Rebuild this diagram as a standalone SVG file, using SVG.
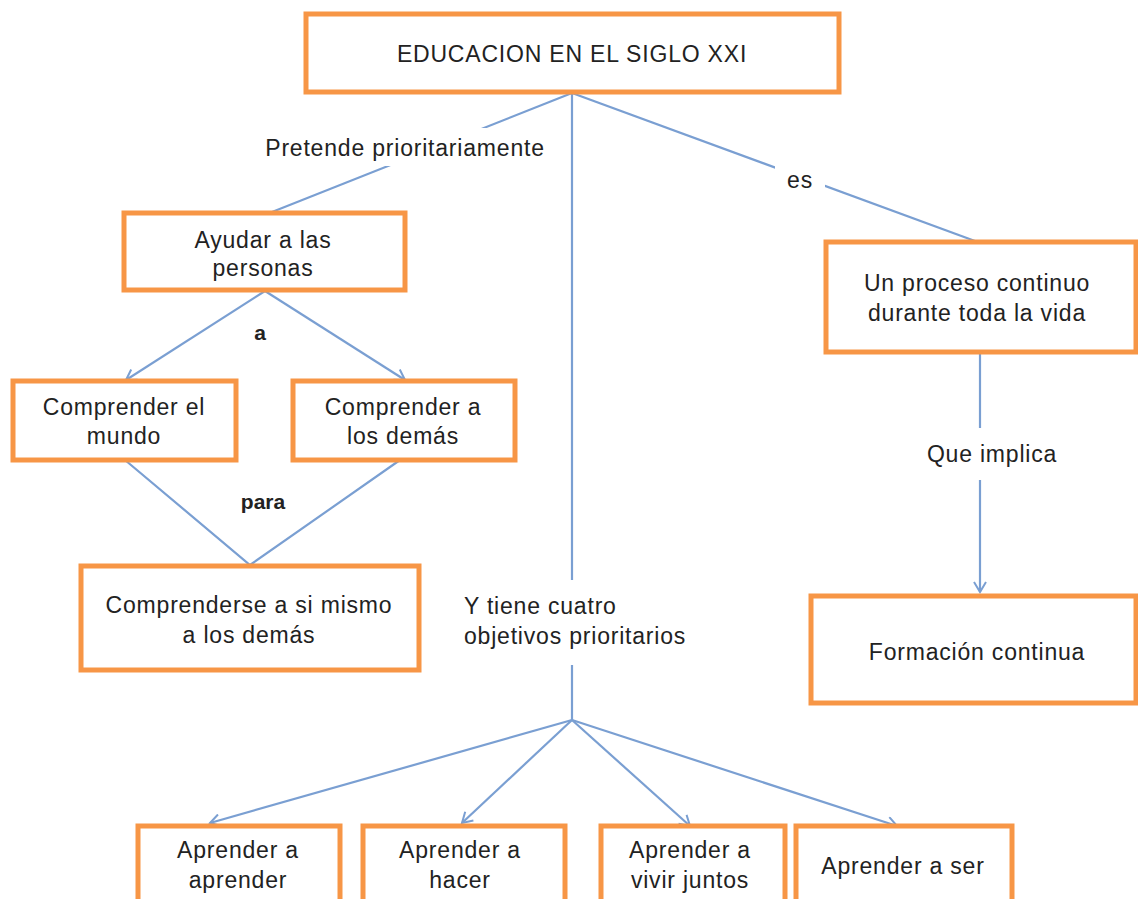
<svg xmlns="http://www.w3.org/2000/svg" width="1138" height="899" viewBox="0 0 1138 899">
<style>
.box{fill:#fff;stroke:#F79646;stroke-width:5}
.t{font-family:"Liberation Sans",Arial,sans-serif;font-size:23px;letter-spacing:0.8px;fill:#222;text-anchor:middle}
.s{text-anchor:start}
.b{font-weight:bold;font-size:21px;letter-spacing:0}
.c{stroke:#7A9FD2;stroke-width:2.2;fill:none}
.lb{fill:#fff}
</style>
<defs>
<marker id="ar" viewBox="0 0 14 14" refX="12" refY="7" markerWidth="14" markerHeight="14" markerUnits="userSpaceOnUse" orient="auto">
<path d="M2,1 L12,7 L2,13" fill="none" stroke="#7A9FD2" stroke-width="2"/>
</marker>
</defs>
<rect width="1138" height="899" fill="#fff"/>
<g id="connectors">
<line class="c" x1="572" y1="93" x2="272" y2="212"/>
<line class="c" x1="572" y1="93" x2="975" y2="241"/>
<line class="c" x1="572" y1="93" x2="572" y2="720"/>
<line class="c" x1="265" y1="291" x2="126" y2="380" marker-end="url(#ar)"/>
<line class="c" x1="265" y1="291" x2="405" y2="380" marker-end="url(#ar)"/>
<polyline class="c" points="125,460 250,565 400,460"/>
<line class="c" x1="980" y1="352" x2="980" y2="592" marker-end="url(#ar)"/>
<line class="c" x1="572" y1="720" x2="210" y2="823" marker-end="url(#ar)"/>
<line class="c" x1="572" y1="720" x2="462" y2="823" marker-end="url(#ar)"/>
<line class="c" x1="572" y1="720" x2="690" y2="826" marker-end="url(#ar)"/>
<line class="c" x1="572" y1="720" x2="897" y2="826" marker-end="url(#ar)"/>
<rect class="lb" x="258" y="128" width="296" height="38"/>
<text class="t" x="405" y="156">Pretende prioritariamente</text>
<rect class="lb" x="775" y="163" width="50" height="32"/>
<text class="t" x="800" y="188">es</text>
<text class="t b" x="260" y="340">a</text>
<text class="t b" x="263" y="509">para</text>
<rect class="lb" x="910" y="428" width="166" height="52"/>
<text class="t" x="992" y="462">Que implica</text>
<rect class="lb" x="455" y="580" width="250" height="85"/>
<text class="t s" x="464" y="614">Y tiene cuatro</text>
<text class="t s" x="464" y="644">objetivos prioritarios</text>
</g>
<g id="n-educacion">
<rect class="box" x="306" y="14" width="533" height="78"/>
<text class="t" x="572" y="62">EDUCACION  EN EL SIGLO XXI</text>
</g>
<g id="n-ayudar">
<rect class="box" x="124" y="213" width="281" height="77"/>
<text class="t" x="263" y="248">Ayudar a las</text>
<text class="t" x="263" y="276">personas</text>
</g>
<g id="n-mundo">
<rect class="box" x="13" y="381" width="223" height="79"/>
<text class="t" x="124" y="415">Comprender el</text>
<text class="t" x="124" y="444">mundo</text>
</g>
<g id="n-demas">
<rect class="box" x="293" y="381" width="222" height="79"/>
<text class="t" x="403" y="415">Comprender a</text>
<text class="t" x="403" y="444">los demás</text>
</g>
<g id="n-comprenderse">
<rect class="box" x="81" y="566" width="338" height="104"/>
<text class="t" x="249" y="613">Comprenderse a si mismo</text>
<text class="t" x="249" y="643">a los demás</text>
</g>
<g id="n-proceso">
<rect class="box" x="826" y="242" width="310" height="110"/>
<text class="t" x="977" y="291">Un proceso continuo</text>
<text class="t" x="977" y="321">durante toda la vida</text>
</g>
<g id="n-formacion">
<rect class="box" x="811" y="596" width="325" height="107"/>
<text class="t" x="977" y="660">Formación continua</text>
</g>
<g id="n-aprender">
<rect class="box" x="138" y="826" width="202" height="80"/>
<text class="t" x="238" y="858">Aprender a</text>
<text class="t" x="238" y="888">aprender</text>
</g>
<g id="n-hacer">
<rect class="box" x="363" y="826" width="202" height="80"/>
<text class="t" x="460" y="858">Aprender a</text>
<text class="t" x="460" y="888">hacer</text>
</g>
<g id="n-vivir">
<rect class="box" x="601" y="826" width="184" height="80"/>
<text class="t" x="690" y="858">Aprender a</text>
<text class="t" x="690" y="888">vivir juntos</text>
</g>
<g id="n-ser">
<rect class="box" x="796" y="826" width="216" height="80"/>
<text class="t" x="903" y="874">Aprender a ser</text>
</g>
</svg>
